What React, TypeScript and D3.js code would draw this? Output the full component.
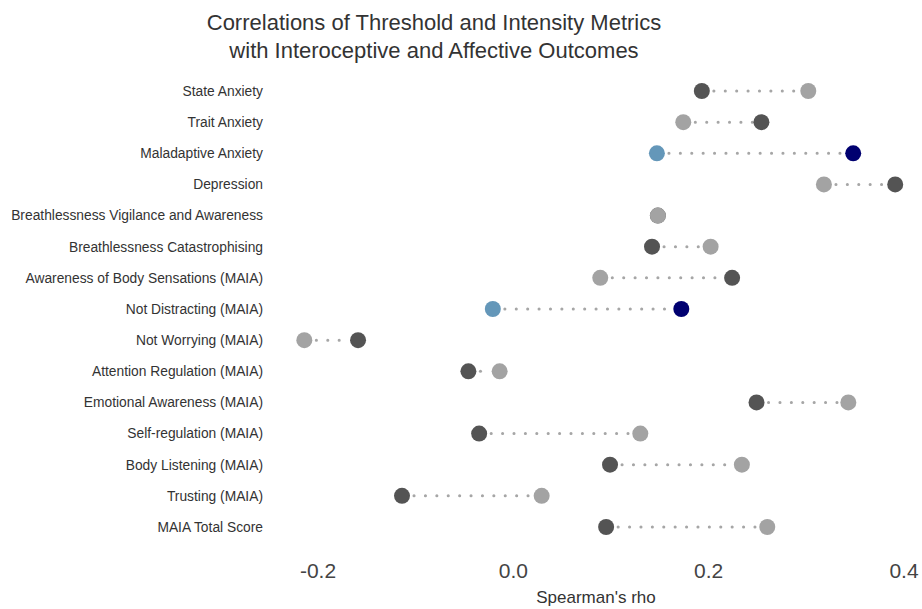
import React from "react";
import * as d3 from "d3";

const outcomes = [
  "State Anxiety",
  "Trait Anxiety",
  "Maladaptive Anxiety",
  "Depression",
  "Breathlessness Vigilance and Awareness",
  "Breathlessness Catastrophising",
  "Awareness of Body Sensations (MAIA)",
  "Not Distracting (MAIA)",
  "Not Worrying (MAIA)",
  "Attention Regulation (MAIA)",
  "Emotional Awareness (MAIA)",
  "Self-regulation (MAIA)",
  "Body Listening (MAIA)",
  "Trusting (MAIA)",
  "MAIA Total Score",
];

// threshold metric (dark dots)
const thresholdRho = [0.193, 0.254, 0.348, 0.391, 0.148, 0.142, 0.224, 0.172, -0.159, -0.046, 0.249, -0.035, 0.099, -0.114, 0.095];
const thresholdSig = [false, false, true, false, false, false, false, true, false, false, false, false, false, false, false];

// intensity metric (light dots)
const intensityRho = [0.302, 0.174, 0.147, 0.318, 0.148, 0.202, 0.089, -0.021, -0.214, -0.014, 0.343, 0.13, 0.234, 0.029, 0.26];
const intensitySig = [false, false, true, false, false, false, false, true, false, false, false, false, false, false, false];

const xTicks = [-0.2, 0.0, 0.2, 0.4];
const xTickLabels = ["-0.2", "0.0", "0.2", "0.4"];

const W = 922;
const H = 609;
const font = "'Liberation Sans', Arial, Helvetica, sans-serif";

export default function App() {
  const x = d3.scaleLinear().domain([-0.2, 0.4]).range([318, 904]);
  const y = d3
    .scalePoint<string>()
    .domain(outcomes)
    .range([91, 527]);

  const rows = outcomes.map((name, i) => ({
    name,
    t: thresholdRho[i],
    ti: thresholdSig[i],
    n: intensityRho[i],
    ni: intensitySig[i],
  }));

  return (
    <svg
      width={W}
      height={H}
      style={{ position: "absolute", left: 0, top: 0, background: "#fff" }}
      fontFamily={font}
    >
      <text x={434} y={30} textAnchor="middle" fontSize={22} fill="#333">
        Correlations of Threshold and Intensity Metrics
      </text>
      <text x={434} y={58} textAnchor="middle" fontSize={22} fill="#333">
        with Interoceptive and Affective Outcomes
      </text>

      {rows.map((r) => (
        <text
          key={"l" + r.name}
          x={263}
          y={y(r.name)!}
          dy="0.35em"
          textAnchor="end"
          fontSize={13.8}
          fill="#333"
        >
          {r.name}
        </text>
      ))}

      {rows.map((r) => {
        const x1 = Math.min(x(r.t), x(r.n));
        const x2 = Math.max(x(r.t), x(r.n));
        if (x2 - x1 < 20) return null;
        return (
          <line
            key={"s" + r.name}
            x1={x1 + 12}
            x2={x2 - 8}
            y1={y(r.name)!}
            y2={y(r.name)!}
            stroke="#a6a6a6"
            strokeWidth={3}
            strokeLinecap="round"
            strokeDasharray="0.1 11.3"
          />
        );
      })}

      {rows.map((r) => (
        <g key={"d" + r.name}>
          <circle cx={x(r.t)} cy={y(r.name)!} r={8} fill={r.ti ? "#000070" : "#545454"} />
          <circle cx={x(r.n)} cy={y(r.name)!} r={8} fill={r.ni ? "#6497b9" : "#a3a3a3"} />
        </g>
      ))}

      {xTicks.map((t, i) => (
        <text key={"t" + t} x={x(t)} y={578} textAnchor="middle" fontSize={21} fill="#444">
          {xTickLabels[i]}
        </text>
      ))}
      <text x={596} y={603} textAnchor="middle" fontSize={17} fill="#333">
        Spearman's rho
      </text>
    </svg>
  );
}
